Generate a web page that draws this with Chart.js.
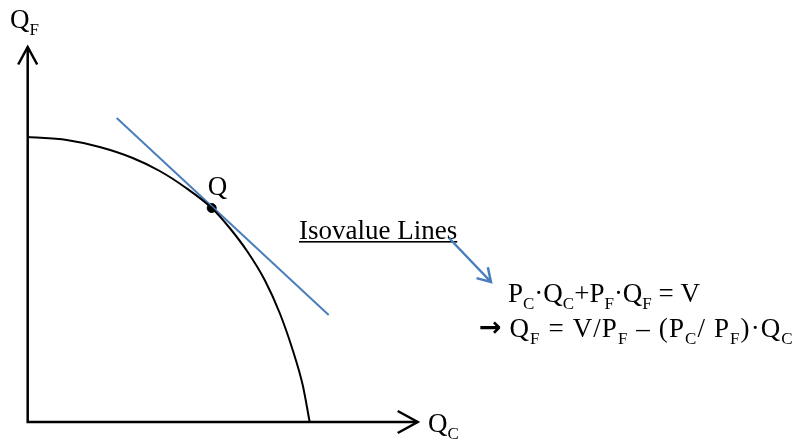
<!DOCTYPE html>
<html>
<head>
<meta charset="utf-8">
<script src="https://cdn.jsdelivr.net/npm/chart.js@4"></script>
<style>
  body { margin: 0; background: #fff; }
  #wrap { width: 799px; height: 444px; }
</style>
</head>
<body>
<div id="wrap"><canvas id="ppf" width="799" height="444"></canvas></div>
<script>
// production possibility frontier (Qc across, Qf up)
var ppfQc = [0, 39, 72, 105, 132, 157, 184, 202, 220, 237, 252, 265, 275, 282];
var ppfQf = [285, 282, 275, 264, 251, 235, 214, 194, 170, 142, 109, 72, 37, 0];

// isovalue line tangent at Q
var isoQc = [89, 301];
var isoQf = [304, 107];

// point Q
var pointQc = [184];
var pointQf = [214];

var axisTop = 375;
var axisRight = 390;

var blue = '#4a7ebb';
var serif = '"Liberation Serif", "Times New Roman", serif';

function pts(xs, ys) {
    return xs.map(function (x, i) { return { x: x, y: ys[i] }; });
}

// writes a list of [text, isSub] runs starting at px,py (baseline)
function runs(ctx, parts, px, py, track) {
    var x = px;
    track = track || 0;
    parts.forEach(function (p) {
        ctx.font = (p[1] ? '17px ' : '27px ') + serif;
        if (!track) {
            ctx.fillText(p[0], x, p[1] ? py + 7 : py);
            x += ctx.measureText(p[0]).width;
            return;
        }
        p[0].split('').forEach(function (ch) {
            ctx.fillText(ch, x, p[1] ? py + 7 : py);
            x += ctx.measureText(ch).width + track;
        });
    });
    return x;
}

var labelsPlugin = {
    id: 'labels',
    afterDatasetsDraw: function (chart) {
        var ctx = chart.ctx;
        var sx = chart.scales.x, sy = chart.scales.y;
        ctx.save();
        ctx.fillStyle = '#000';
        ctx.textBaseline = 'alphabetic';

        // axis chevrons
        ctx.strokeStyle = '#000';
        ctx.lineWidth = 2.5;
        ctx.lineCap = 'butt';
        var ox = sx.getPixelForValue(0), oy = sy.getPixelForValue(0);
        var ty = sy.getPixelForValue(axisTop), rx = sx.getPixelForValue(axisRight);
        ctx.beginPath();
        ctx.moveTo(ox - 9.5, ty + 17.5); ctx.lineTo(ox, ty); ctx.lineTo(ox + 9.5, ty + 17.5);
        ctx.moveTo(rx - 20, oy - 11); ctx.lineTo(rx, oy); ctx.lineTo(rx - 20, oy + 11);
        ctx.stroke();

        // axis titles
        runs(ctx, [['Q', 0], ['F', 1]], 10, 28);
        runs(ctx, [['Q', 0], ['C', 1]], 428, 432);

        // point label
        var qx = sx.getPixelForValue(pointQc[0]), qy = sy.getPixelForValue(pointQf[0]);
        runs(ctx, [['Q', 0]], qx - 4, qy - 13);

        // isovalue label with underline and arrow
        ctx.font = '27px ' + serif;
        var w = ctx.measureText('Isovalue Lines').width;
        ctx.fillText('Isovalue Lines', 299, 239);
        ctx.fillRect(299, 241, w, 1.6);

        ctx.strokeStyle = blue;
        ctx.lineWidth = 2.5;
        var ax0 = 449, ay0 = 238, ax1 = 491, ay1 = 282;
        ctx.beginPath();
        ctx.moveTo(ax0, ay0); ctx.lineTo(ax1, ay1);
        var ang = Math.atan2(ay1 - ay0, ax1 - ax0);
        var L = 15, spread = 0.55;
        ctx.moveTo(ax1 - L * Math.cos(ang - spread), ay1 - L * Math.sin(ang - spread));
        ctx.lineTo(ax1, ay1);
        ctx.lineTo(ax1 - L * Math.cos(ang + spread), ay1 - L * Math.sin(ang + spread));
        ctx.stroke();

        // equations
        ctx.fillStyle = '#000';
        runs(ctx, [['P', 0], ['C', 1], ['\u00b7Q', 0], ['C', 1], ['+P', 0], ['F', 1],
                   ['\u00b7Q', 0], ['F', 1], [' = V', 0]], 508, 302);
        ctx.font = 'bold 27px "DejaVu Sans"';
        ctx.fillText('\u2192', 479, 336);
        var ax = 479 + ctx.measureText('\u2192').width;
        runs(ctx, [[' Q', 0], ['F', 1], [' = V/P', 0], ['F', 1], [' \u2013 (P', 0], ['C', 1],
                   ['/ P', 0], ['F', 1], [')\u00b7Q', 0], ['C', 1]], ax, 337, 1.1);
        ctx.restore();
    }
};

new Chart(document.getElementById('ppf').getContext('2d'), {
    type: 'scatter',
    data: {
        datasets: [
            {
                label: 'Axes',
                data: [{ x: 0, y: axisTop }, { x: 0, y: 0 }, { x: axisRight, y: 0 }],
                showLine: true,
                borderColor: '#000',
                borderWidth: 2.5,
                pointRadius: 0,
                tension: 0
            },
            {
                label: 'PPF',
                data: pts(ppfQc, ppfQf),
                showLine: true,
                borderColor: '#000',
                borderWidth: 2,
                pointRadius: 0,
                cubicInterpolationMode: 'monotone'
            },
            {
                label: 'Isovalue line',
                data: pts(isoQc, isoQf),
                showLine: true,
                borderColor: blue,
                borderWidth: 2,
                pointRadius: 0
            },
            {
                label: 'Q',
                data: pts(pointQc, pointQf),
                showLine: false,
                backgroundColor: '#000',
                borderColor: '#000',
                pointRadius: 4.5
            }
        ]
    },
    options: {
        responsive: false,
        animation: false,
        clip: false,
        layout: { padding: 0, autoPadding: false },
        plugins: { legend: { display: false }, tooltip: { enabled: false } },
        scales: {
            x: { type: 'linear', min: -27.7, max: 771.3, display: false },
            y: { type: 'linear', min: -22, max: 422, display: false }
        }
    },
    plugins: [labelsPlugin]
});
</script>
</body>
</html>
